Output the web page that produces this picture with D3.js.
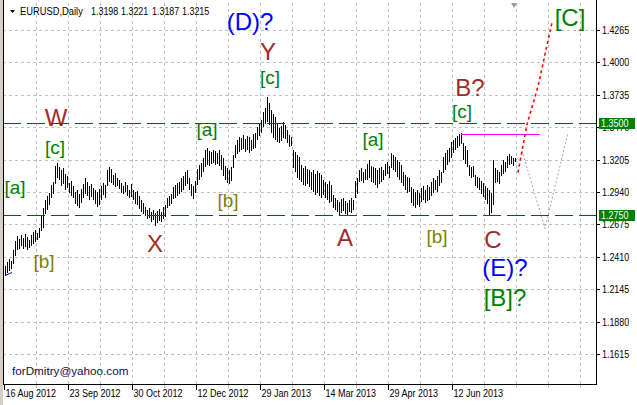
<!DOCTYPE html>
<html><head><meta charset="utf-8">
<script src="https://cdn.jsdelivr.net/npm/d3@7"></script>
<style>
html,body{margin:0;padding:0;background:#fff;}
svg{display:block;}
text{font-family:"Liberation Sans",Arial,sans-serif;}
</style></head>
<body>
<script>
// ---------------- data ----------------
const symbolName = "EURUSD,Daily";
const ohlcValues = ["1.3198","1.3221","1.3187","1.3215"];
const priceTicks = [1.4265,1.4000,1.3735,1.3470,1.3205,1.2940,1.2675,1.2410,1.2145,1.1880,1.1615];
const dateLabels = ["16 Aug 2012","23 Sep 2012","30 Oct 2012","12 Dec 2012","29 Jan 2013","14 Mar 2013","29 Apr 2013","12 Jun 2013"];
const dateBars   = [0,32,64,96,128,160,192,224];
const levelLines = [1.3500, 1.2750];
const highs = [
1.2333,1.2366,1.2391,1.2374,1.2464,1.2537,1.2578,1.2554,1.2586,1.2562,
1.2594,1.2570,1.2545,1.2586,1.2611,1.2627,1.2603,1.2643,1.2749,1.2807,
1.2872,1.2904,1.2929,1.2994,1.3019,1.3149,1.3174,1.3141,1.3117,1.3133,
1.3084,1.3068,1.3011,1.3027,1.2986,1.2937,1.2953,1.2921,1.2962,1.3002,
1.3052,1.3019,1.2986,1.3002,1.2970,1.2953,1.2937,1.2962,1.2986,1.3011,
1.2994,1.3117,1.3141,1.3125,1.3076,1.3093,1.3052,1.3035,1.3011,1.2986,
1.3019,1.2994,1.2953,1.3002,1.2953,1.2937,1.2945,1.2904,1.2872,1.2848,
1.2815,1.2790,1.2807,1.2774,1.2790,1.2766,1.2782,1.2798,1.2774,1.2815,
1.2831,1.2888,1.2904,1.2921,1.2978,1.2994,1.3011,1.3019,1.3052,1.3068,
1.3101,1.3117,1.3052,1.3002,1.2986,1.3027,1.3125,1.3157,1.3174,1.3215,
1.3280,1.3296,1.3272,1.3264,1.3280,1.3272,1.3256,1.3280,1.3239,1.3215,
1.3149,1.3133,1.3117,1.3141,1.3239,1.3321,1.3362,1.3386,1.3378,1.3403,
1.3370,1.3394,1.3386,1.3362,1.3411,1.3419,1.3468,1.3501,1.3525,1.3591,
1.3623,1.3713,1.3664,1.3607,1.3574,1.3550,1.3492,1.3460,1.3476,1.3509,
1.3484,1.3443,1.3403,1.3386,1.3280,1.3264,1.3239,1.3223,1.3157,1.3133,
1.3149,1.3125,1.3117,1.3101,1.3117,1.3084,1.3109,1.3093,1.3076,1.3035,
1.3019,1.3002,1.3027,1.2994,1.2912,1.2888,1.2872,1.2856,1.2880,1.2888,
1.2864,1.2848,1.2872,1.2888,1.2872,1.3027,1.3052,1.3117,1.3133,1.3101,
1.3125,1.3166,1.3198,1.3149,1.3141,1.3133,1.3117,1.3133,1.3141,1.3117,
1.3166,1.3182,1.3149,1.3256,1.3239,1.3223,1.3198,1.3182,1.3157,1.3101,
1.3076,1.3060,1.3052,1.2978,1.2962,1.2937,1.2953,1.2929,1.2970,1.2986,
1.2953,1.2994,1.2978,1.3019,1.3052,1.3035,1.3068,1.3117,1.3101,1.3223,
1.3256,1.3280,1.3296,1.3345,1.3362,1.3378,1.3394,1.3411,1.3419,1.3337,
1.3313,1.3280,1.3157,1.3141,1.3149,1.3076,1.3060,1.3052,1.3027,1.3011,
1.2986,1.2970,1.2953,1.2929,1.3198,1.3133,1.3117,1.3101,1.3157,1.3198,
1.3182,1.3231,1.3247,1.3231,1.3215,1.3221];
const lows = [
1.2251,1.2276,1.2292,1.2309,1.2349,1.2415,1.2464,1.2472,1.2496,1.2472,
1.2488,1.2464,1.2480,1.2496,1.2512,1.2529,1.2545,1.2562,1.2619,1.2643,
1.2757,1.2790,1.2831,1.2888,1.2921,1.3002,1.3052,1.3035,1.2986,1.3002,
1.2953,1.2970,1.2929,1.2904,1.2888,1.2839,1.2823,1.2807,1.2848,1.2888,
1.2921,1.2904,1.2872,1.2896,1.2872,1.2839,1.2815,1.2831,1.2872,1.2912,
1.2888,1.2986,1.3019,1.3011,1.2994,1.2978,1.2986,1.2962,1.2929,1.2921,
1.2937,1.2904,1.2888,1.2896,1.2872,1.2839,1.2831,1.2798,1.2774,1.2757,
1.2741,1.2717,1.2725,1.2692,1.2708,1.2659,1.2684,1.2700,1.2692,1.2717,
1.2733,1.2807,1.2823,1.2839,1.2880,1.2888,1.2904,1.2921,1.2937,1.2953,
1.2986,1.3002,1.2953,1.2904,1.2880,1.2929,1.2994,1.3035,1.3060,1.3101,
1.3141,1.3157,1.3149,1.3166,1.3174,1.3157,1.3166,1.3149,1.3117,1.3068,
1.3035,1.3011,1.3002,1.3027,1.3133,1.3215,1.3247,1.3264,1.3280,1.3288,
1.3264,1.3280,1.3256,1.3272,1.3288,1.3296,1.3362,1.3394,1.3419,1.3468,
1.3492,1.3509,1.3484,1.3419,1.3378,1.3362,1.3345,1.3337,1.3353,1.3378,
1.3370,1.3337,1.3304,1.3313,1.3133,1.3101,1.3052,1.3035,1.3019,1.2994,
1.2986,1.3002,1.2978,1.2953,1.2937,1.2912,1.2929,1.2904,1.2888,1.2912,
1.2888,1.2872,1.2848,1.2856,1.2807,1.2790,1.2774,1.2749,1.2766,1.2782,
1.2757,1.2749,1.2774,1.2766,1.2790,1.2888,1.2921,1.3019,1.3027,1.3011,
1.3035,1.3035,1.3052,1.3019,1.3011,1.2994,1.2970,1.3002,1.3019,1.3035,
1.3068,1.3084,1.3052,1.3133,1.3117,1.3101,1.3060,1.3035,1.3011,1.2986,
1.2953,1.2929,1.2937,1.2848,1.2823,1.2807,1.2831,1.2815,1.2856,1.2872,
1.2848,1.2864,1.2872,1.2904,1.2929,1.2953,1.2937,1.2986,1.3011,1.3093,
1.3117,1.3157,1.3182,1.3215,1.3256,1.3280,1.3296,1.3313,1.3329,1.3198,
1.3166,1.3141,1.3068,1.3052,1.3060,1.2986,1.2970,1.2953,1.2921,1.2896,
1.2872,1.2839,1.2749,1.2766,1.2831,1.3011,1.3019,1.3002,1.3068,1.3084,
1.3101,1.3133,1.3157,1.3166,1.3149,1.3187];
// wave labels: [text, bar, price, kind]
const waveLabels = [
  ["W",25.5,1.3544,"red"],["[c]",25,1.3307,"g"],["[a]",5,1.2980,"g"],["[b]",19.5,1.2368,"o"],
  ["X",75,1.2523,"red"],["[a]",101,1.3446,"g"],["[b]",111.5,1.2874,"o"],
  ["(D)?",122.5,1.4328,"blue"],["Y",131.5,1.4083,"red"],["[c]",132.5,1.3871,"g"],
  ["A",170,1.2564,"red"],["[a]",184,1.3372,"g"],["[b]",216,1.2580,"o"],
  ["B?",232.5,1.3789,"red"],["[c]",228.5,1.3593,"g"],["C",244,1.2548,"red"],
  ["(E)?",250,1.2319,"blue"],["[B]?",250,1.2082,"G"],["[C]",282.5,1.4361,"G"]
];
const redPath  = [[256.5,1.3103],[261,1.3495],[266.5,1.3805],[273.5,1.4329]];
const grayPath = [[258.5,1.3283],[270,1.2646],[281.5,1.3430]];
const magentaLine = [[228,1.3416],[267.5,1.3416]];
const blueLine = [[0,1.2262],[3.5,1.2286]];
const emailText = "forDmitry@yahoo.com";

// ---------------- drawing ----------------
(function(){
const W = 637, H = 405;
const pL = 3, pR = 596, pT = 3, pB = 384;
const x = d3.scaleLinear().domain([-0.5, 295.5]).range([4, 596]);
const y = d3.scaleLinear().domain([1.1615, 1.4265]).range([354.2, 29.7]);

// squeeze small (Tahoma-like) texts horizontally to the reference widths
function squeeze(sel, factor) {
  sel.each(function() {
    const len = this.getComputedTextLength();
    if (len > 0) d3.select(this).attr("textLength", (len * factor).toFixed(1)).attr("lengthAdjust", "spacingAndGlyphs");
  });
}

const svg = d3.select("body").append("svg").attr("width", W).attr("height", H);
svg.append("rect").attr("width", W).attr("height", H).attr("fill", "#fff");

svg.append("defs").append("clipPath").attr("id","plot")
  .append("rect").attr("x", pL).attr("y", pT).attr("width", pR-pL).attr("height", pB-pT);

const g = svg.append("g").attr("clip-path","url(#plot)");

// grid
const gridColor = "#c0c0c0";
priceTicks.forEach(p => {
  const yy = Math.round(y(p)) + 0.5;
  g.append("line").attr("x1", pL).attr("x2", pR).attr("y1", yy).attr("y2", yy)
    .attr("stroke", gridColor).attr("stroke-dasharray","3,3");
});
for (let b = 16; x(b - 0.5) < pR; b += 16) {
  const xx = Math.round(x(b - 0.5)) + 0.5;
  g.append("line").attr("x1", xx).attr("x2", xx).attr("y1", pT).attr("y2", pB)
    .attr("stroke", gridColor).attr("stroke-dasharray","3,3");
}

// level lines
levelLines.forEach(p => {
  const yy = Math.round(y(p)) + 0.5;
  svg.append("line").attr("x1", pL).attr("x2", pR+4).attr("y1", yy).attr("y2", yy)
    .attr("stroke", "#006400").attr("stroke-width",1).attr("stroke-dasharray","18,6")
    .attr("shape-rendering","crispEdges");
});

// bars
g.append("g").selectAll("line").data(highs).join("line")
  .attr("x1", (d,i) => Math.round(x(i)) + 0.5)
  .attr("x2", (d,i) => Math.round(x(i)) + 0.5)
  .attr("y1", d => Math.round(y(d)))
  .attr("y2", (d,i) => Math.max(Math.round(y(lows[i])), Math.round(y(d)) + 1))
  .attr("stroke", "#000").attr("stroke-width", 1).attr("shape-rendering","crispEdges");

const line = d3.line().x(d => x(d[0])).y(d => Math.round(y(d[1])) + 0.5);
g.append("path").datum(magentaLine).attr("d", line).attr("stroke","#ff00ff").attr("fill","none")
  .attr("shape-rendering","crispEdges");
g.append("path").datum(blueLine).attr("d", line).attr("stroke","#0000ff").attr("fill","none");
g.append("path").datum(grayPath).attr("d", line).attr("stroke","#a8a8a8").attr("fill","none")
  .attr("stroke-dasharray","2,2");
g.append("path").datum(redPath).attr("d", line).attr("stroke","#ff0000").attr("stroke-width",1.6)
  .attr("fill","none").attr("stroke-dasharray","3,3");

// wave labels
const colors = {red:"#a52a2a", g:"#008000", o:"#808000", blue:"#0000ff", G:"#008000"};
const sizes  = {red:24, g:19, o:19, blue:24, G:24};
g.append("g").selectAll("text").data(waveLabels).join("text")
  .attr("x", d => x(d[1])).attr("y", d => y(d[2]))
  .attr("text-anchor","middle").attr("dominant-baseline","central")
  .attr("fill", d => colors[d[3]]).attr("font-size", d => sizes[d[3]])
  .text(d => d[0]);

// email
svg.append("text").attr("x", 12).attr("y", 375).attr("font-family","'Liberation Serif',serif")
  .attr("font-size", 11.7).attr("fill","#10104a").text(emailText);

// header
svg.append("path").attr("d","M10,10 L15,10 L12.5,13 Z").attr("fill","#000");
const nameT = svg.append("text").attr("x", 20).attr("y", 15).attr("font-size", 10.5).attr("fill","#000").text(symbolName);
squeeze(nameT, 0.89);
const ohlcX = [91, 121, 152, 182];
const ohlcT = svg.append("g").selectAll("text").data(ohlcValues).join("text")
  .attr("x", (d,k) => ohlcX[k]).attr("y", 15).attr("font-size", 10.5).attr("fill","#000").text(d => d);
squeeze(ohlcT, 0.85);

// shift marker
svg.append("path").attr("d","M511,3 L517,3 L514,8 Z").attr("fill","#a0a0a0");

// frame + axes
svg.append("line").attr("x1", pL+0.5).attr("x2", pL+0.5).attr("y1", 0).attr("y2", pB)
  .attr("stroke","#000");
svg.append("line").attr("x1", pL).attr("x2", pR+1).attr("y1", pB+0.5).attr("y2", pB+0.5)
  .attr("stroke","#000");
svg.append("line").attr("x1", pR+0.5).attr("x2", pR+0.5).attr("y1", 0).attr("y2", pB+1)
  .attr("stroke","#000");
svg.append("rect").attr("x",0).attr("y",0).attr("width",3).attr("height",H).attr("fill","#d4d0c8");

// right axis ticks + labels
priceTicks.forEach(p => {
  const yy = Math.round(y(p)) + 0.5;
  svg.append("line").attr("x1", pR).attr("x2", pR+4).attr("y1", yy).attr("y2", yy).attr("stroke","#000");
  const t = svg.append("text").attr("class","plab").attr("x", pR+6).attr("y", yy).attr("dominant-baseline","central")
    .attr("font-size", 10).attr("fill","#000").text(p.toFixed(4));
  squeeze(t, 0.89);
});
levelLines.forEach(p => {
  const yy = Math.round(y(p));
  svg.append("rect").attr("x", pR+3).attr("y", yy-5).attr("width", 36).attr("height", 11).attr("fill","#008000");
  const t = svg.append("text").attr("x", pR+5).attr("y", yy+0.5).attr("dominant-baseline","central")
    .attr("font-size", 10).attr("fill","#fff").text(p.toFixed(4));
  squeeze(t, 0.9);
});

// bottom axis ticks + labels
for (let b = 16; x(b - 0.5) < pR; b += 16) {
  const xx = Math.round(x(b - 0.5)) + 0.5;
  svg.append("line").attr("x1", xx).attr("x2", xx).attr("y1", pB+1).attr("y2", pB+4).attr("stroke","#bbb");
}
dateBars.forEach((b, k) => {
  const xx = Math.round(x(b - 0.5)) + 0.5;
  svg.append("line").attr("x1", xx).attr("x2", xx).attr("y1", pB).attr("y2", pB+6).attr("stroke","#000");
  const t = svg.append("text").attr("x", xx + 1).attr("y", 397).attr("font-size", 10).attr("fill","#000").text(dateLabels[k]);
  squeeze(t, 0.9);
});
})();
</script>
</body></html>
